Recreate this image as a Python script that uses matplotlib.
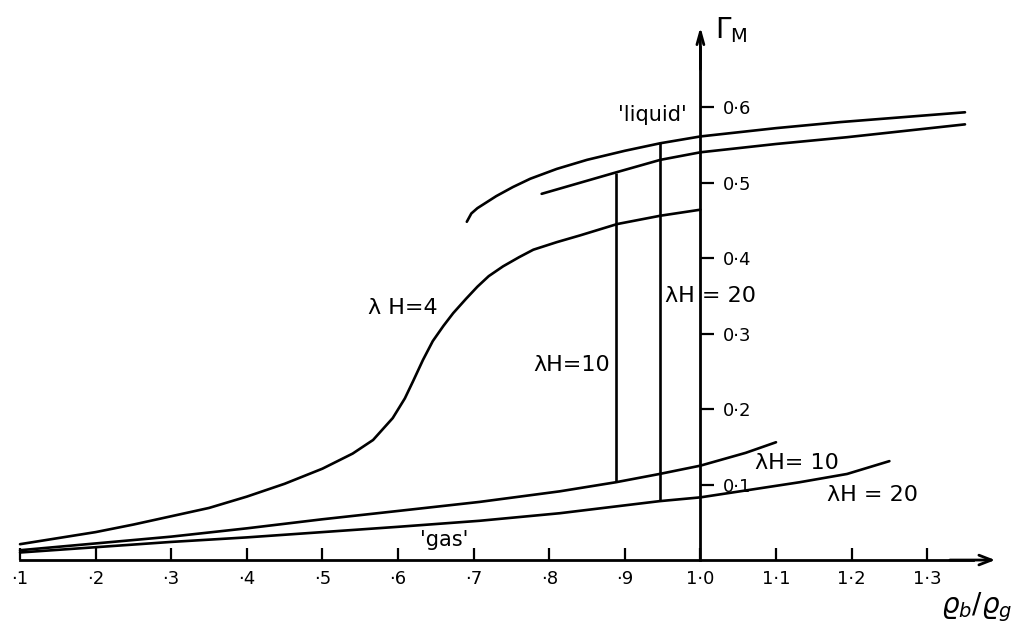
import matplotlib
matplotlib.use("Agg")
import matplotlib.pyplot as plt

# =========================
# 1. DATA
# =========================

# lambda*H = 4 (continuous isotherm)
x_h4 = [0.10, 0.15, 0.20, 0.25, 0.30, 0.35, 0.40, 0.45, 0.50, 0.54, 0.567,
        0.593, 0.609, 0.620, 0.633, 0.646, 0.660, 0.673, 0.690, 0.705, 0.720,
        0.739, 0.760, 0.779, 0.810, 0.841, 0.890, 0.947, 1.00]
y_h4 = [0.021, 0.029, 0.037, 0.047, 0.058, 0.069, 0.084, 0.101, 0.121, 0.141,
        0.159, 0.188, 0.214, 0.237, 0.265, 0.290, 0.310, 0.327, 0.346, 0.362,
        0.376, 0.389, 0.401, 0.411, 0.421, 0.430, 0.445, 0.456, 0.464]

# lambda*H = 10, gas and liquid branches
x_h10_gas = [0.10, 0.20, 0.30, 0.40, 0.50, 0.60, 0.708, 0.814, 0.888, 0.946,
             1.00, 1.06, 1.10]
y_h10_gas = [0.013, 0.022, 0.031, 0.042, 0.054, 0.065, 0.077, 0.091, 0.103,
             0.114, 0.125, 0.142, 0.156]
x_h10_liq = [0.79, 0.887, 0.947, 1.00, 1.10, 1.194, 1.35]
y_h10_liq = [0.485, 0.513, 0.530, 0.540, 0.551, 0.560, 0.577]
x_h10_tie = 0.888

# lambda*H = 20, gas and liquid branches
x_h20_gas = [0.10, 0.20, 0.30, 0.40, 0.50, 0.60, 0.708, 0.814, 0.946, 1.00,
             1.131, 1.194, 1.25]
y_h20_gas = [0.010, 0.017, 0.024, 0.030, 0.037, 0.044, 0.052, 0.062, 0.078,
             0.083, 0.103, 0.114, 0.131]
x_h20_liq = [0.691, 0.697, 0.705, 0.730, 0.752, 0.775, 0.810, 0.850, 0.900,
             0.947, 1.00, 1.10, 1.185, 1.35]
y_h20_liq = [0.448, 0.459, 0.466, 0.482, 0.494, 0.505, 0.518, 0.530, 0.542,
             0.552, 0.561, 0.572, 0.580, 0.593]
x_h20_tie = 0.946

# axis ticks
x_ticks = [0.1, 0.2, 0.3, 0.4, 0.5, 0.6, 0.7, 0.8, 0.9, 1.0, 1.1, 1.2, 1.3]
x_tick_labels = ["·1", "·2", "·3", "·4", "·5", "·6", "·7", "·8", "·9",
                 "1·0", "1·1", "1·2", "1·3"]
y_ticks = [0.1, 0.2, 0.3, 0.4, 0.5, 0.6]
y_tick_labels = ["0·1", "0·2", "0·3", "0·4", "0·5", "0·6"]

# =========================
# 2. FIGURE
# =========================

plt.rcParams["font.family"] = "DejaVu Sans"
lw = 1.9
line_kw = dict(color="black", lw=lw, solid_joinstyle="round",
               solid_capstyle="round")

fig = plt.figure(figsize=(10.17, 6.28), dpi=100)
ax = fig.add_axes([0, 0, 1, 1])
ax.set_xlim(0.0735, 1.4188)
ax.set_ylim(-0.090, 0.7417)

ax.plot(x_h4, y_h4, **line_kw)
ax.plot(x_h10_gas, y_h10_gas, **line_kw)
ax.plot(x_h10_liq, y_h10_liq, **line_kw)
ax.plot(x_h20_gas, y_h20_gas, **line_kw)
ax.plot(x_h20_liq, y_h20_liq, **line_kw)

# coexistence (tie) lines
i10 = x_h10_gas.index(x_h10_tie)
j10 = x_h10_liq.index(0.887)
ax.vlines(x_h10_tie, y_h10_gas[i10], y_h10_liq[j10], color="black", lw=lw)
i20 = x_h20_gas.index(x_h20_tie)
j20 = x_h20_liq.index(0.947)
ax.vlines(x_h20_tie, y_h20_gas[i20], y_h20_liq[j20], color="black", lw=lw)

# =========================
# 3. AXES (crossing at rho_b/rho_g = 1)
# =========================

for s in ["top", "left"]:
    ax.spines[s].set_visible(False)
ax.spines["bottom"].set_position(("data", 0))
ax.spines["bottom"].set_bounds(0.1, 1.36)
ax.spines["right"].set_position(("data", 1.0))
ax.spines["right"].set_bounds(0, 0.68)
ax.spines["bottom"].set_linewidth(2)
ax.spines["right"].set_linewidth(2)

ax.yaxis.tick_right()
ax.set_xticks(x_ticks)
ax.set_xticklabels(x_tick_labels)
ax.set_yticks(y_ticks)
ax.set_yticklabels(y_tick_labels)
ax.tick_params(axis="x", direction="in", length=9, width=1.6, pad=7,
               labelsize=13)
ax.tick_params(axis="y", direction="out", length=10, width=1.6, pad=6,
               labelsize=13)

# arrow heads
ax.annotate("", xy=(1.39, 0), xytext=(1.33, 0),
            arrowprops=dict(arrowstyle="->,head_length=0.9,head_width=0.35",
                            lw=2, color="black", shrinkA=0, shrinkB=0))
ax.annotate("", xy=(1.0, 0.706), xytext=(1.0, 0.65),
            arrowprops=dict(arrowstyle="->,head_length=0.9,head_width=0.25",
                            lw=2, color="black", shrinkA=0, shrinkB=0))

# =========================
# 4. LABELS
# =========================

ax.text(1.019, 0.722, r"$\Gamma_{\mathrm{M}}$", fontsize=20, ha="left", va="top")
ax.text(1.412, -0.062, r"$\varrho_b/\varrho_g$", fontsize=20,
        ha="right", va="center")

ax.text(0.936, 0.590, "'liquid'", fontsize=15, ha="center", va="center")
ax.text(0.661, 0.026, "'gas'", fontsize=15, ha="center", va="center")
ax.text(0.607, 0.334, "λ H=4", fontsize=16, ha="center", va="center")
ax.text(0.880, 0.258, "λH=10", fontsize=16, ha="right", va="center")
ax.text(0.953, 0.350, "λH = 20", fontsize=16, ha="left", va="center")
ax.text(1.128, 0.128, "λH= 10", fontsize=16, ha="center", va="center")
ax.text(1.228, 0.086, "λH = 20", fontsize=16, ha="center", va="center")

plt.savefig("out.png", dpi=100)
